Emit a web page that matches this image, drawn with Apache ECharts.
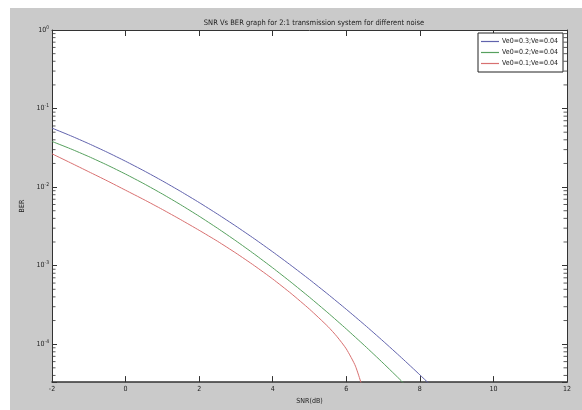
<!DOCTYPE html>
<html>
<head>
<meta charset="utf-8">
<script src="https://cdn.jsdelivr.net/npm/echarts@6/dist/echarts.min.js"></script>
<style>
html,body{margin:0;padding:0;background:#fff;}
#c{width:582px;height:410px;}
</style>
</head>
<body>
<div id="c"></div>
<script>
// ---- data ----
const snr = [-2,-1.5,-1,-0.5,0,0.5,1,1.5,2,2.5,3,3.5,4,4.5,5,5.5,6,6.5,7,7.5,8,8.5];
const berBlue = [0.05636,0.04519,0.03570,0.02780,0.02132,0.01612,0.01200,0.00880,0.00636,0.00453,0.00318,0.00220,0.001498,0.001005,0.000665,0.000433,0.000278,0.000176,0.0001096,0.0000673,0.0000407,0.0000243];
const berGreen = [0.03811,0.03079,0.02445,0.01908,0.01463,0.01103,0.00817,0.00595,0.004256,0.002992,0.002068,0.001404,0.000937,0.000614,0.000396,0.000251,0.0001562,0.0000956,0.0000575,0.0000340,0.0000197];
const snrRed = [-2,-1.5,-1,-0.5,0,0.5,1,1.5,2,2.5,3,3.5,4,4.5,5,5.5,5.75,6,6.25,6.5];
const berRed = [0.02655,0.02042,0.01567,0.01202,0.00912,0.00692,0.00519,0.003846,0.002818,0.002042,0.001445,0.001,0.000676,0.000442,0.000279,0.000168,0.0001245,0.0000871,0.0000525,0.0000229];
const seriesNames = ['Ve0=0.3;Ve=0.04','Ve0=0.2;Ve=0.04','Ve0=0.1;Ve=0.04'];
const xTicks = [-2,0,2,4,6,8,10,12];
const yMin = 0.0000329, yMax = 1;
const minorTicks = [0.00004,0.00005,0.00006,0.00007,0.00008,0.00009,
  0.0002,0.0003,0.0004,0.0005,0.0006,0.0007,0.0008,0.0009,
  0.002,0.003,0.004,0.005,0.006,0.007,0.008,0.009,
  0.02,0.03,0.04,0.05,0.06,0.07,0.08,0.09,
  0.2,0.3,0.4,0.5,0.6,0.7,0.8,0.9];
const titleText = 'SNR Vs BER graph for 2:1 transmission system for different noise';

const FONT = "'Liberation Sans Narrow','DejaVu Sans Condensed','Liberation Sans',sans-serif";
const AX = '#333333';
const colors = ['#6163ad','#56a05e','#d87070'];
const xMin = xTicks[0], xMax = xTicks[xTicks.length-1];

function supLabel(v){
  const e = Math.log10(v);
  const r = Math.round(e);
  if (Math.abs(e - r) > 1e-6) return '';
  return '{b|10}{s|' + r + '}';
}
const richLab = {
  b:{fontSize:7, fontFamily:FONT, color:'#222', lineHeight:10},
  s:{fontSize:5, fontFamily:FONT, color:'#222', verticalAlign:'top', lineHeight:10, padding:[0,0,3,0]}
};

function lineSeries(i, data){
  return {name:seriesNames[i], type:'line', xAxisIndex:0, yAxisIndex:0, showSymbol:false, symbol:'none',
    smooth:0.2, data:data, lineStyle:{width:1, color:colors[i]}, itemStyle:{color:colors[i]}, z:3};
}
function minorSeries(xv, off){
  return {name:'minor', type:'scatter', xAxisIndex:0, yAxisIndex:0, silent:true, clip:false,
    symbol:'rect', symbolSize:[3.5,1], symbolOffset:[off,0], itemStyle:{color:AX},
    data:minorTicks.map(v=>[xv, v]), z:4};
}

const chart = echarts.init(document.getElementById('c'), null, {renderer:'canvas'});
const opt = {
  animation:false,
  backgroundColor:'#fff',
  graphic:[{type:'rect', z:-100, silent:true, shape:{x:10,y:8,width:572,height:402}, style:{fill:'#cacaca'}}],
  title:{text:titleText, left:309, top:14, textAlign:'center',
    textStyle:{fontSize:7.5, fontWeight:'normal', color:'#222', fontFamily:FONT}},
  grid:{left:52, right:15, top:30, bottom:27, show:true, backgroundColor:'#fff', borderWidth:0},
  legend:{
    data:seriesNames, orient:'vertical', right:19, top:33, z:20,
    icon:'rect', itemWidth:18, itemHeight:1.2, itemGap:4,
    padding:[5,5,5,3], backgroundColor:'#fff', borderColor:'#222', borderWidth:1,
    textStyle:{fontSize:7, color:'#222', fontFamily:FONT, padding:[0,0,0,-2]}
  },
  xAxis:[
    {type:'value', min:xMin, max:xMax, interval:2, position:'bottom',
     name:'SNR(dB)', nameLocation:'middle', nameGap:15,
     nameTextStyle:{fontSize:7, color:'#222', fontFamily:FONT},
     axisLine:{onZero:false, lineStyle:{color:AX, width:1.5}},
     axisTick:{inside:true, length:6, lineStyle:{color:AX}},
     axisLabel:{fontSize:7, color:'#222', fontFamily:FONT, margin:4},
     splitLine:{show:false}},
    {type:'value', min:xMin, max:xMax, interval:2, position:'top',
     axisLine:{onZero:false, lineStyle:{color:AX, width:1}},
     axisTick:{inside:true, length:6, lineStyle:{color:AX}},
     axisLabel:{show:false}, splitLine:{show:false}}
  ],
  yAxis:[
    {type:'log', logBase:10, min:yMin, max:yMax, position:'left',
     name:'BER', nameLocation:'middle', nameGap:20, nameRotate:90,
     nameTextStyle:{fontSize:7, color:'#222', fontFamily:FONT},
     axisLine:{show:true, onZero:false, lineStyle:{color:AX, width:1}},
     axisTick:{inside:true, length:5, lineStyle:{color:AX}},
     axisLabel:{formatter:supLabel, rich:richLab, margin:3},
     splitLine:{show:false}},
    {type:'log', logBase:10, min:yMin, max:yMax, position:'right',
     axisLine:{show:true, onZero:false, lineStyle:{color:AX, width:1}},
     axisTick:{inside:true, length:5, lineStyle:{color:AX}},
     axisLabel:{show:false}, splitLine:{show:false}}
  ],
  series:[
    lineSeries(0, snr.map((x,i)=>[x,berBlue[i]])),
    lineSeries(1, berGreen.map((y,i)=>[snr[i],y])),
    lineSeries(2, snrRed.map((x,i)=>[x,berRed[i]])),
    minorSeries(xMin, 1.75),
    minorSeries(xMax, -1.75)
  ]
};
chart.setOption(opt);
</script>
</body>
</html>
